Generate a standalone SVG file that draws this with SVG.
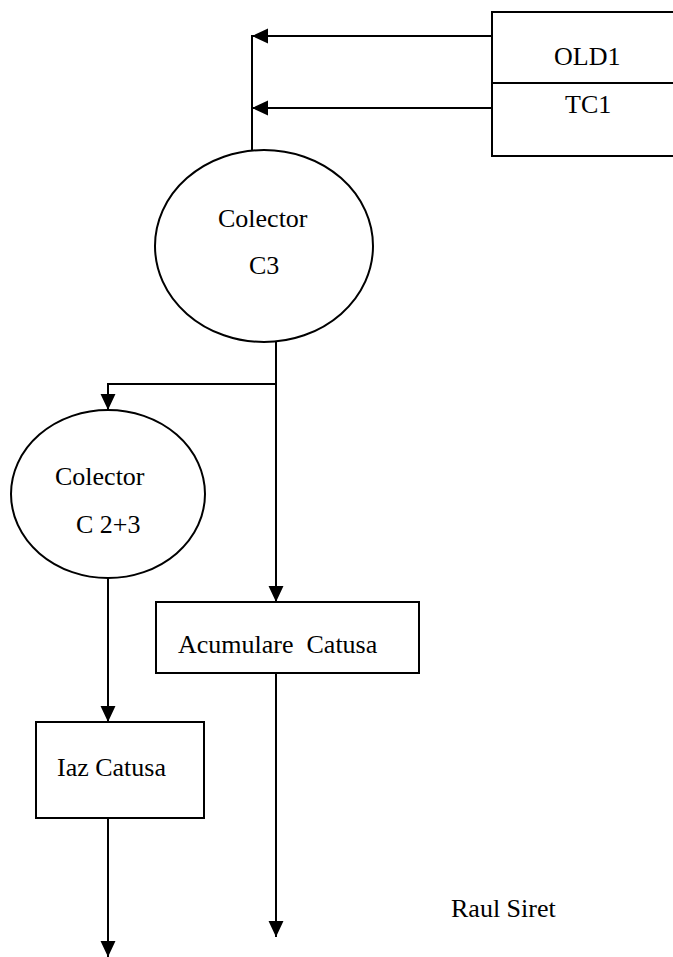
<svg xmlns="http://www.w3.org/2000/svg" width="673" height="957" viewBox="0 0 673 957">
<style>
.s{fill:none;stroke:#000;stroke-width:2}
.n{fill:#fff;stroke:#000;stroke-width:2}
text{font-family:"Liberation Serif","Times New Roman",serif;font-size:26px;fill:#000}
</style>
<defs>
<marker id="ah" markerUnits="userSpaceOnUse" markerWidth="16" markerHeight="16" viewBox="0 0 15 14" refX="15" refY="7" orient="auto">
<path d="M0,0 L15,7 L0,14 Z" fill="#000"/>
</marker>
</defs>
<rect width="673" height="957" fill="#fff"/>
<g id="connectors">
<line class="s" x1="492" y1="36" x2="252" y2="36" marker-end="url(#ah)"/>
<line class="s" x1="492" y1="108" x2="252" y2="108" marker-end="url(#ah)"/>
<line class="s" x1="252" y1="35" x2="252" y2="150"/>
<line class="s" x1="276" y1="342" x2="276" y2="602" marker-end="url(#ah)"/>
<polyline class="s" points="276,384 108,384 108,410" marker-end="url(#ah)"/>
<line class="s" x1="108" y1="578" x2="108" y2="722" marker-end="url(#ah)"/>
<line class="s" x1="108" y1="818" x2="108" y2="957" marker-end="url(#ah)"/>
<line class="s" x1="276" y1="673" x2="276" y2="937" marker-end="url(#ah)"/>
</g>
<g id="old1-tc1">
<rect class="n" x="492" y="12" width="190" height="144"/>
<line class="s" x1="492" y1="83" x2="682" y2="83"/>
<text x="554" y="65">OLD1</text>
<text x="565" y="113">TC1</text>
</g>
<g id="colector-c3">
<ellipse class="n" cx="264" cy="246" rx="109" ry="96"/>
<text x="218" y="227">Colector</text>
<text x="249" y="274">C3</text>
</g>
<g id="colector-c23">
<ellipse class="n" cx="108" cy="494" rx="97" ry="84"/>
<text x="55" y="485">Colector</text>
<text x="76" y="533">C 2+3</text>
</g>
<g id="acumulare-catusa">
<rect class="n" x="156" y="602" width="263" height="71"/>
<text x="178" y="653" xml:space="preserve">Acumulare  Catusa</text>
</g>
<g id="iaz-catusa">
<rect class="n" x="36" y="722" width="168" height="96"/>
<text x="57" y="776">Iaz Catusa</text>
</g>
<g id="raul-siret">
<text x="451" y="917">Raul Siret</text>
</g>
</svg>
